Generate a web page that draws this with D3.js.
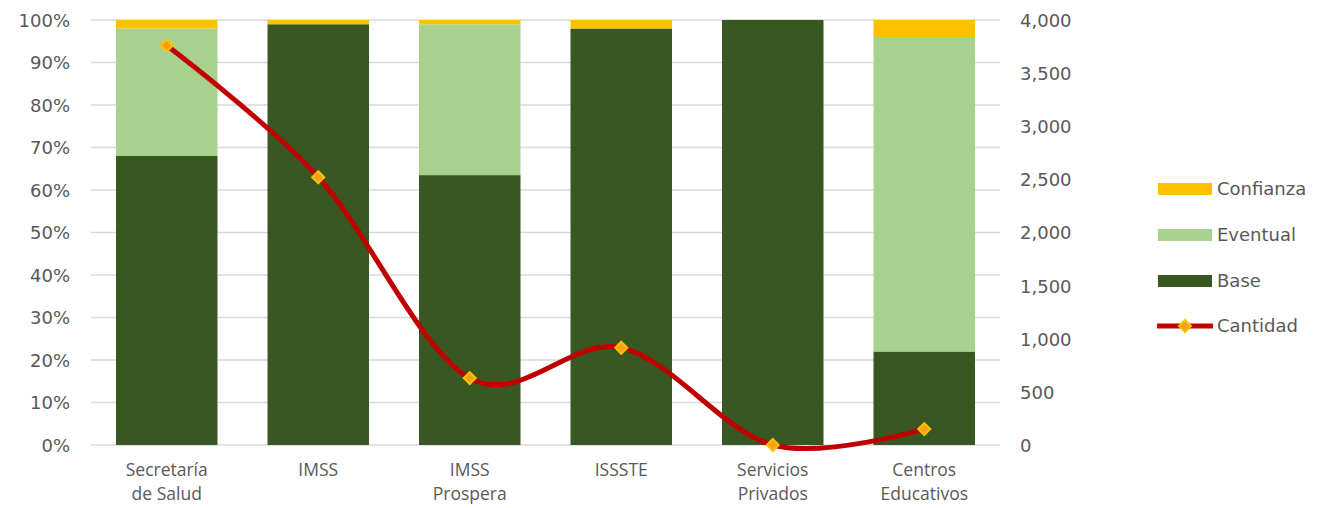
<!DOCTYPE html>
<html>
<head>
<meta charset="utf-8">
<script src="https://cdn.jsdelivr.net/npm/d3@7"></script>
<style>
  html, body { margin: 0; padding: 0; background: #ffffff; }
  svg { display: block; }
</style>
</head>
<body>
<div id="chart"></div>
<script>
const categories = ["Secretaría de Salud", "IMSS", "IMSS Prospera", "ISSSTE", "Servicios Privados", "Centros Educativos"];
const base = [68, 99, 63.5, 98, 100, 22];
const eventual = [30, 0, 35.5, 0, 0, 74];
const confianza = [2, 1, 1, 2, 0, 4];
const cantidad = [3760, 2520, 630, 915, 0, 150];
const leftTicks = [0, 10, 20, 30, 40, 50, 60, 70, 80, 90, 100];
const rightTicks = [0, 500, 1000, 1500, 2000, 2500, 3000, 3500, 4000];
const seriesNames = ["Base", "Eventual", "Confianza"];
const colors = { Base: "#385723", Eventual: "#A9D18E", Confianza: "#FFC000" };

(function () {
const W = 1326, H = 508;
const pLeft = 91, pRight = 1000, pTop = 20, pBottom = 445;
const textColor = "#595959";

const svg = d3.select("#chart").append("svg").attr("width", W).attr("height", H);

const x = d3.scaleBand().domain(categories).range([pLeft, pRight]).paddingInner(0.33).paddingOuter(0.165);
const yL = d3.scaleLinear().domain([0, 100]).range([pBottom, pTop]);
const yR = d3.scaleLinear().domain([0, 4000]).range([pBottom, pTop]);

// gridlines
svg.append("g").selectAll("line").data(leftTicks).join("line")
  .attr("x1", pLeft).attr("x2", pRight)
  .attr("y1", d => yL(d)).attr("y2", d => yL(d))
  .attr("stroke", "#D9D9D9").attr("stroke-width", 1.3);

// stacked bars
const rows = categories.map((c, i) => ({ cat: c, Base: base[i], Eventual: eventual[i], Confianza: confianza[i] }));
const stack = d3.stack().keys(seriesNames)(rows);
svg.append("g").selectAll("g").data(stack).join("g")
  .attr("fill", d => colors[d.key])
  .selectAll("rect").data(d => d).join("rect")
  .attr("x", d => x(d.data.cat))
  .attr("width", x.bandwidth())
  .attr("y", d => yL(d[1]))
  .attr("height", d => yL(d[0]) - yL(d[1]));

// left axis
const axL = d3.axisLeft(yL).tickValues(leftTicks).tickFormat(d => d + "%").tickSize(0).tickPadding(0);
const gL = svg.append("g").attr("transform", "translate(70,0)").call(axL);
gL.select(".domain").remove();
gL.selectAll("text").attr("fill", textColor).style("font-family", "DejaVu Sans").style("font-size", "18px").attr("dy", "0.36em");

// right axis
const axR = d3.axisRight(yR).tickValues(rightTicks).tickFormat(d3.format(",")).tickSize(0).tickPadding(0);
const gR = svg.append("g").attr("transform", "translate(1020,0)").call(axR);
gR.select(".domain").remove();
gR.selectAll("text").attr("fill", textColor).style("font-family", "DejaVu Sans").style("font-size", "18px").attr("dy", "0.36em");

// category labels
const catG = svg.append("g");
categories.forEach(c => {
  const idx = c.indexOf(" ");
  const lines = idx < 0 ? [c] : [c.slice(0, idx), c.slice(idx + 1)];
  const cx = x(c) + x.bandwidth() / 2;
  const t = catG.append("text")
    .attr("x", cx)
    .attr("y", 476)
    .attr("text-anchor", "middle")
    .attr("fill", textColor)
    .style("font-family", "Open Sans")
    .style("font-size", "17.5px");
  lines.forEach((l, j) => t.append("tspan").attr("x", cx).attr("dy", j === 0 ? 0 : 24).text(l));
});

// line
const pts = categories.map((c, i) => [x(c) + x.bandwidth() / 2, yR(cantidad[i])]);
svg.append("path")
  .attr("d", d3.line().curve(d3.curveCardinal.tension(0))(pts))
  .attr("fill", "none").attr("stroke", "#C00000").attr("stroke-width", 5);

svg.append("g").selectAll("path").data(pts).join("path")
  .attr("transform", d => `translate(${d[0]},${d[1]}) rotate(45)`)
  .attr("d", d3.symbol().type(d3.symbolSquare).size(72))
  .attr("fill", "#F4A11A").attr("stroke", "#FFC000").attr("stroke-width", 2);

// legend
const legend = svg.append("g");
const legItems = [
  { name: "Confianza", type: "box", y: 189 },
  { name: "Eventual", type: "box", y: 235 },
  { name: "Base", type: "box", y: 281 },
  { name: "Cantidad", type: "line", y: 326 }
];
legItems.forEach(it => {
  if (it.type === "box") {
    legend.append("rect").attr("x", 1158).attr("y", it.y - 6).attr("width", 54).attr("height", 12).attr("fill", colors[it.name]);
  } else {
    legend.append("line").attr("x1", 1157).attr("x2", 1213).attr("y1", it.y).attr("y2", it.y).attr("stroke", "#C00000").attr("stroke-width", 5);
    legend.append("path").attr("transform", `translate(1185,${it.y}) rotate(45)`)
      .attr("d", d3.symbol().type(d3.symbolSquare).size(72))
      .attr("fill", "#F4A11A").attr("stroke", "#FFC000").attr("stroke-width", 2);
  }
  legend.append("text").attr("x", 1217).attr("y", it.y).attr("dy", "0.36em")
    .attr("fill", textColor).style("font-family", "DejaVu Sans").style("font-size", "18px").text(it.name);
});
})();
</script>
</body>
</html>
